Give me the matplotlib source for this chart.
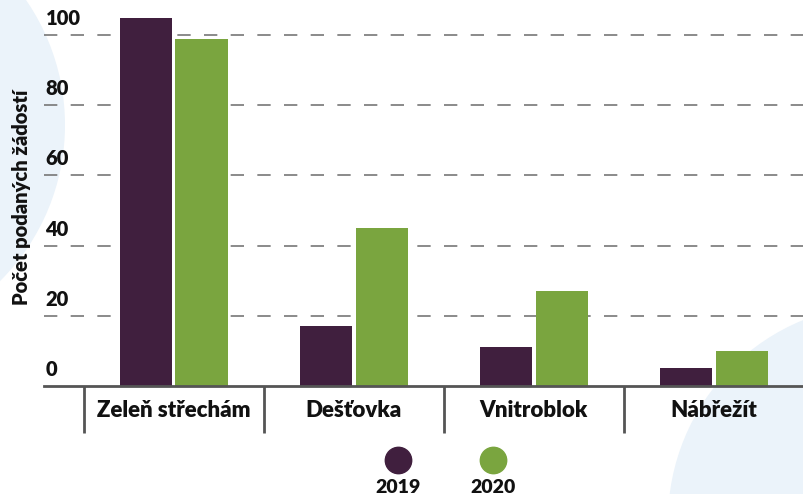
import numpy as np
import matplotlib
matplotlib.use("Agg")
import matplotlib.pyplot as plt
from matplotlib.patches import Circle
from matplotlib.transforms import blended_transform_factory

categories = ["Zeleň střechám", "Dešťovka", "Vnitroblok", "Nábřežít"]
values_2019 = [105, 17, 11, 5]
values_2020 = [99, 45, 27, 10]
series_labels = ["2019", "2020"]
yticks = [0, 20, 40, 60, 80, 100]

purple = "#401f3e"
green = "#7aa53f"
axis_gray = "#555555"
bg_blue = "#ebf3fa"
txt = "#111111"
fw = "heavy"

plt.rcParams["font.family"] = ["Lato", "DejaVu Sans"]

fig = plt.figure(figsize=(8.04, 4.94), dpi=100)

# background decoration in pixel space
bg = fig.add_axes([0, 0, 1, 1], zorder=0)
bg.set_xlim(0, 804)
bg.set_ylim(494, 0)
bg.axis("off")
bg.add_patch(Circle((-155, 125), 220, color=bg_blue, lw=0))
bg.add_patch(Circle((885, 521), 217, color=bg_blue, lw=0))

ax = fig.add_axes([44 / 804, 108 / 494, 1 - 44 / 804, 386 / 494], zorder=1)
ax.patch.set_alpha(0)

x = np.arange(len(categories))
w = 0.29
off = 0.155
ax.bar(x - off, values_2019, w, color=purple, zorder=3)
ax.bar(x + off, values_2020, w, color=green, zorder=3)

ax.set_xlim(-0.72, 3.5)
ax.set_ylim(0, 110)

for t in yticks[1:]:
    ax.axhline(t, color="#777777", lw=1.2, ls=(0, (8, 8)), zorder=1)

trans = blended_transform_factory(ax.transAxes, ax.transData)
for t in yticks:
    ax.text(0.002, t + 2.0, str(t), transform=trans, fontsize=14.5,
            fontweight=fw, ha="left", va="bottom", color=txt)

for s in ["left", "right", "top"]:
    ax.spines[s].set_visible(False)
ax.spines["bottom"].set_color(axis_gray)
ax.spines["bottom"].set_linewidth(2)
ax.spines["bottom"].set_zorder(4)

ax.set_yticks([])
ax.set_xticks(x)
ax.set_xticklabels(categories, fontsize=16, fontweight=fw, color=txt)
ax.tick_params(axis="x", which="major", length=0, pad=10)
ax.set_xticks(np.arange(-0.5, len(categories)), minor=True)
ax.tick_params(axis="x", which="minor", length=34, width=2, color=axis_gray,
               direction="out")

fig.text(22 / 804, 1 - 197 / 494, "Počet podaných žádostí", rotation=90,
         fontsize=14.5, fontweight=fw, ha="center", va="center", color=txt)

# legend: dots with year below
for xp, c, lab in zip([398, 493], [purple, green], series_labels):
    bg.plot([xp], [460], marker="o", ms=19, color=c, ls="none")
    bg.text(xp, 487, lab, fontsize=14, fontweight=fw, ha="center",
            va="center", color=txt)

fig.savefig("out.png", dpi=100)
